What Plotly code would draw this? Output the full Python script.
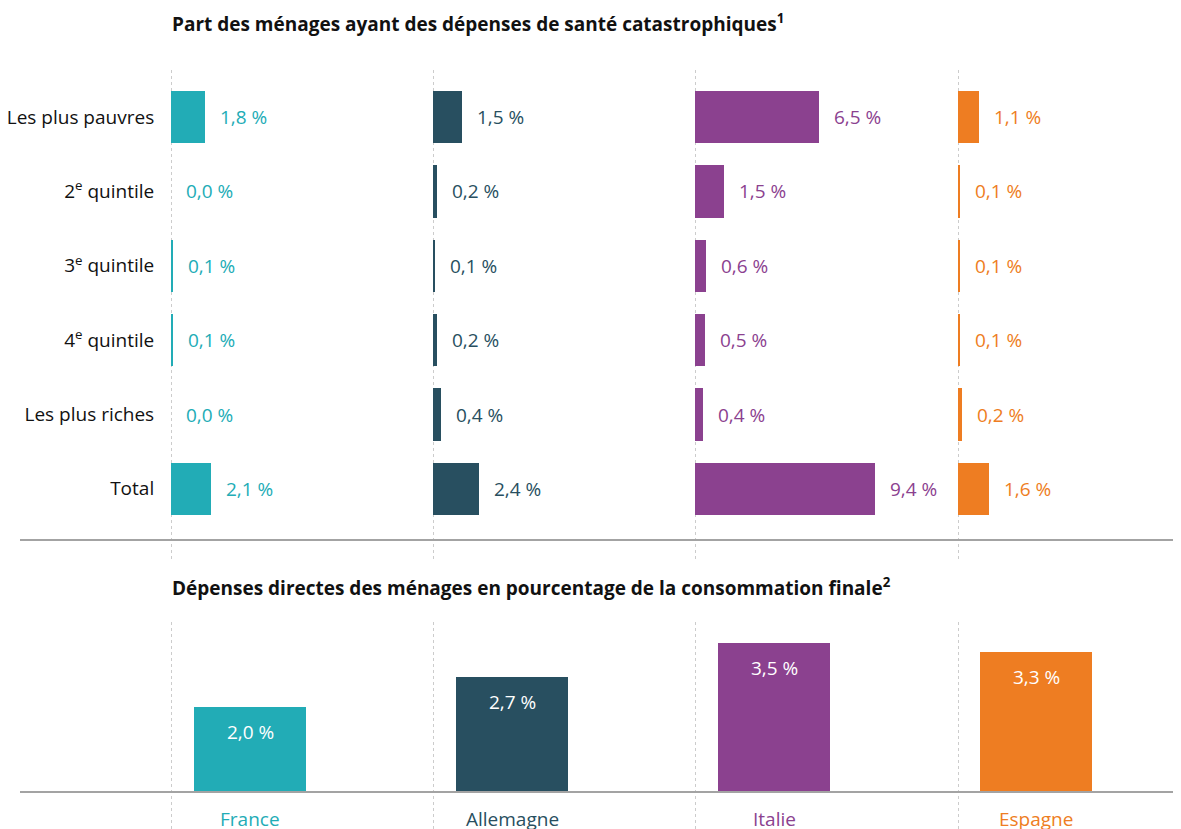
import plotly.graph_objects as go

# ---------------- data ----------------
groups = ["Les plus pauvres", "2<sup>e</sup> quintile", "3<sup>e</sup> quintile",
          "4<sup>e</sup> quintile", "Les plus riches", "Total"]
countries = ["France", "Allemagne", "Italie", "Espagne"]
catastrophic = {
    "France":    [1.8, 0.0, 0.1, 0.1, 0.0, 2.1],
    "Allemagne": [1.5, 0.2, 0.1, 0.2, 0.4, 2.4],
    "Italie":    [6.5, 1.5, 0.6, 0.5, 0.4, 9.4],
    "Espagne":   [1.1, 0.1, 0.1, 0.1, 0.2, 1.6],
}
direct_spending = [2.0, 2.7, 3.5, 3.3]
colors = ["#22ACB6", "#284F60", "#8B418F", "#EE7D22"]

title_top = "Part des ménages ayant des dépenses de santé catastrophiques<sup>1</sup>"
title_bottom = "Dépenses directes des ménages en pourcentage de la consommation finale<sup>2</sup>"

# ---------------- layout helpers ----------------
OFF = 8  # page body margin
W, H = 1181 - OFF, 829 - OFF
FONT = "Open Sans"


def px_x(p):
    return (p - OFF) / W


def px_y(p):
    return 1 - (p - OFF) / H


def fmt(v):
    return f"{v:.1f}".replace(".", ",") + "\u00a0%"


fig = go.Figure()
annotations = []
shapes = []

panel_start = [171, 433, 695, 958]
panel_w = 210
scale = 19.1  # px per %

layout_axes = {}
for i, c in enumerate(countries):
    xa = "x" if i == 0 else f"x{i + 1}"
    xa_key = "xaxis" if i == 0 else f"xaxis{i + 1}"
    fig.add_trace(go.Bar(
        y=groups, x=catastrophic[c], orientation="h",
        marker=dict(color=colors[i], line=dict(width=0)),
        width=0.7, xaxis=xa, yaxis="y", showlegend=False,
        hoverinfo="skip",
    ))
    layout_axes[xa_key] = dict(
        domain=[px_x(panel_start[i]), px_x(panel_start[i] + panel_w)],
        range=[0, panel_w / scale], anchor="y",
        showgrid=False, zeroline=False, showticklabels=False, showline=False,
        fixedrange=True,
    )
    for g, v in zip(groups, catastrophic[c]):
        annotations.append(dict(
            x=v, y=g, xref=xa, yref="y", text=fmt(v), showarrow=False,
            xanchor="left", xshift=13, font=dict(family=FONT, size=19, color=colors[i]),
        ))
    # dotted vertical guide lines
    shapes.append(dict(type="line", xref=xa, yref="paper", x0=0, x1=0,
                       y0=px_y(70), y1=px_y(560),
                       line=dict(color="#9A9A9A", width=1, dash="dot"), layer="below"))
    shapes.append(dict(type="line", xref=xa, yref="paper", x0=0, x1=0,
                       y0=px_y(622), y1=px_y(829),
                       line=dict(color="#9A9A9A", width=1, dash="dot"), layer="below"))

# bottom bars
fig.add_trace(go.Bar(
    x=countries, y=direct_spending, marker=dict(color=colors, line=dict(width=0)),
    width=0.427, xaxis="x5", yaxis="y2", showlegend=False, hoverinfo="skip",
))
for i, (c, v) in enumerate(zip(countries, direct_spending)):
    annotations.append(dict(
        x=c, y=v, xref="x5", yref="y2", text=fmt(v), showarrow=False,
        yanchor="middle", yshift=-25, font=dict(family=FONT, size=19, color="white"),
    ))
    annotations.append(dict(
        x=c, y=px_y(819), xref="x5", yref="paper", text=c, showarrow=False,
        yanchor="middle", font=dict(family=FONT, size=19, color=colors[i]),
    ))

# titles
annotations.append(dict(x=px_x(170), y=px_y(23), xref="paper", yref="paper",
                        text=title_top, showarrow=False, xanchor="left", yanchor="middle",
                        font=dict(family=FONT, size=19, color="#111111", weight="bold")))
annotations.append(dict(x=px_x(170), y=px_y(587), xref="paper", yref="paper",
                        text=title_bottom, showarrow=False, xanchor="left", yanchor="middle",
                        font=dict(family=FONT, size=19, color="#111111", weight="bold")))

# horizontal separator
shapes.append(dict(type="line", xref="paper", yref="paper", x0=px_x(20), x1=1,
                   y0=px_y(540), y1=px_y(540), line=dict(color="#A3A3A3", width=2)))

bottom_center0 = 250
step = 262
fig.update_layout(
    width=W, height=H,
    margin=dict(l=0, r=0, t=0, b=0),
    paper_bgcolor="white", plot_bgcolor="rgba(0,0,0,0)",
    font=dict(family=FONT, size=19, color="#111111"),
    bargap=0,
    yaxis=dict(
        domain=[px_y(526), px_y(80)], autorange="reversed", anchor="x",
        categoryorder="array", categoryarray=groups,
        showgrid=False, zeroline=False, showline=False,
        ticks="outside", ticklen=12, tickcolor="rgba(0,0,0,0)",
        tickfont=dict(family=FONT, size=19, color="#111111"),
        fixedrange=True,
    ),
    xaxis5=dict(
        domain=[px_x(20), 1], anchor="y2",
        categoryorder="array", categoryarray=countries,
        range=[(20 - bottom_center0) / step, (1181 - bottom_center0) / step],
        showticklabels=False, showgrid=False, zeroline=False,
        showline=True, linecolor="#A3A3A3", linewidth=2, ticks="",
        fixedrange=True,
    ),
    yaxis2=dict(
        domain=[px_y(791), px_y(622)], anchor="x5", range=[0, 4.0],
        showgrid=False, zeroline=False, showticklabels=False, showline=False,
        fixedrange=True,
    ),
    annotations=annotations,
    shapes=shapes,
    **layout_axes,
)

fig.write_html("out.html")
